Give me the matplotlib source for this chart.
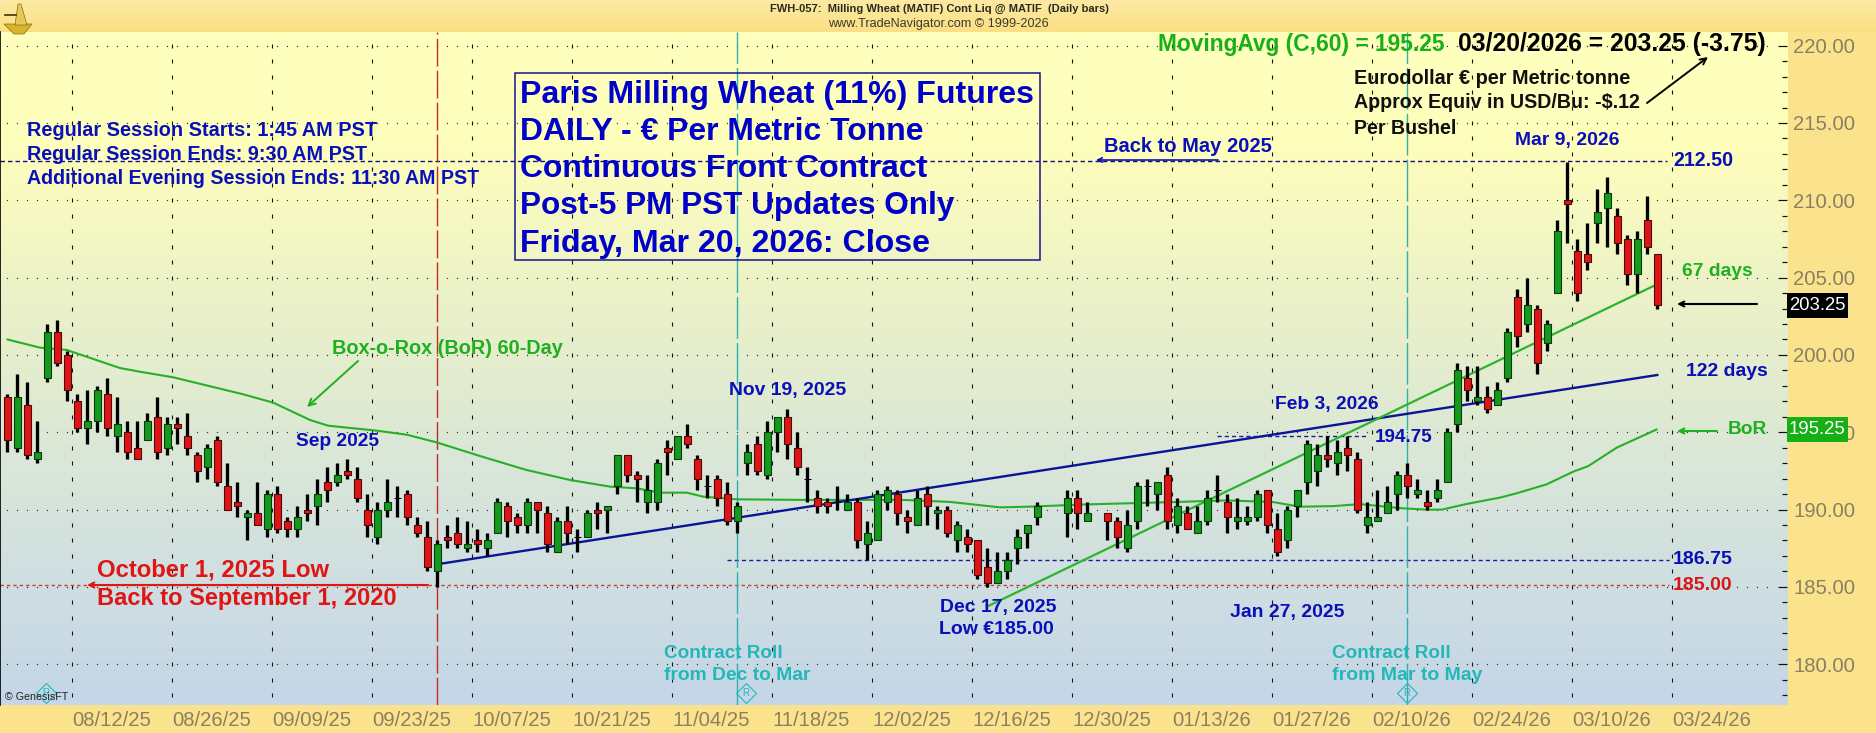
import numpy as np
import matplotlib
matplotlib.use("Agg")
import matplotlib.pyplot as plt
from matplotlib.colors import LinearSegmentedColormap
from matplotlib.patches import Rectangle, Polygon
from matplotlib.lines import Line2D

nan = float("nan")

# ---------- data ----------
opens = [197.25,194.0,196.75,193.25,198.5,201.5,200.0,197.0,195.25,195.75,
 197.5,194.75,195.0,194.0,194.5,196.0,194.0,195.5,194.75,193.5,
 192.75,194.5,191.5,190.5,189.5,189.75,188.75,191.0,189.25,188.75,
 190.0,190.25,191.75,191.75,192.5,192.0,190.0,188.25,190.0,190.75,
 191.0,189.0,188.25,186.0,188.25,188.5,187.5,188.0,187.5,188.5,
 190.25,189.5,189.0,190.5,189.75,187.25,189.25,188.25,188.25,190.0,
 190.0,191.5,193.5,192.25,190.5,190.5,194.0,193.25,194.75,193.25,
 191.5,192.0,191.0,189.25,193.0,194.25,192.25,195.0,196.0,194.0,
 192.0,190.75,190.5,190.5,190.0,190.5,187.75,188.0,190.5,191.0,
 189.5,189.0,191.0,189.75,190.0,188.0,188.25,188.0,186.25,185.25,
 186.0,187.5,188.5,189.5,nan,nan,189.75,190.75,189.25,nan,
 189.75,189.25,187.5,189.25,191.5,191.0,192.25,189.0,189.75,188.5,
 189.25,191.25,190.5,189.25,189.25,189.5,191.25,188.75,188.0,190.25,
 191.75,192.5,193.5,193.0,194.0,193.25,189.0,189.25,189.75,191.0,
 192.25,191.0,190.5,190.75,191.75,195.5,198.5,197.0,197.25,196.75,
 198.5,203.75,202.0,203.0,200.75,204.0,210.0,206.75,206.5,208.5,
 209.5,209.0,207.5,205.25,208.75,206.5]
highs = [197.5,198.75,198.25,195.75,202.0,202.25,200.25,197.5,197.75,198.0,
 198.5,197.25,195.75,195.75,196.25,197.25,196.0,196.0,196.25,193.75,
 194.25,194.75,193.0,191.75,190.0,191.75,191.25,191.5,189.5,190.25,
 191.0,192.0,192.75,193.0,193.25,192.75,191.0,190.5,192.0,191.5,
 191.25,189.5,189.25,188.0,189.0,189.5,189.25,188.75,188.5,190.75,
 190.5,189.75,190.75,190.5,190.25,189.5,190.25,188.75,190.0,190.5,
 190.25,193.5,193.5,192.5,192.25,193.25,194.5,194.75,195.5,193.5,
 192.25,192.25,191.75,190.5,194.25,194.75,195.75,196.0,196.5,195.0,
 192.75,191.25,190.75,191.5,191.0,190.75,189.25,191.25,191.5,191.25,
 190.0,191.25,191.5,190.25,190.25,189.25,188.75,188.0,187.5,187.25,
 187.25,188.75,189.0,190.5,nan,nan,191.25,191.25,190.5,nan,
 189.75,189.5,190.0,191.75,192.0,191.75,192.75,190.75,190.25,190.25,
 191.25,192.25,191.0,190.75,190.25,191.25,191.25,189.75,190.25,191.25,
 194.5,194.25,194.75,194.5,194.75,193.75,190.5,191.25,191.5,192.5,
 193.0,192.0,191.25,192.0,195.25,199.5,199.25,199.25,198.0,198.25,
 201.75,204.25,205.0,203.25,202.25,208.75,212.5,207.5,208.5,210.75,
 211.5,209.5,207.75,208.0,210.25,206.5]
lows = [193.75,193.75,193.25,193.0,198.25,199.25,197.0,195.0,194.25,195.0,
 194.75,193.75,193.25,193.25,194.5,193.25,193.5,194.25,193.5,191.75,
 192.0,191.5,190.0,189.5,188.0,189.0,188.25,188.5,188.25,188.25,
 189.25,189.0,190.5,191.5,192.0,190.5,188.25,187.75,189.5,189.5,
 189.0,188.25,186.0,185.0,187.5,187.5,187.25,187.25,187.0,188.5,
 188.25,188.5,188.5,188.5,187.25,187.25,187.75,187.25,188.25,188.75,
 188.5,191.0,191.75,190.5,189.75,190.0,192.25,193.25,194.0,191.25,
 190.75,190.25,189.0,188.5,192.25,192.25,192.0,193.75,193.25,192.25,
 190.5,189.75,189.75,190.0,190.0,187.5,186.75,188.0,190.0,189.0,
 188.5,189.0,189.0,188.75,188.25,187.25,187.25,185.5,185.0,185.25,
 185.5,186.5,187.5,189.0,nan,nan,188.25,188.75,189.25,nan,
 188.0,187.5,187.25,188.75,190.25,190.0,188.75,188.5,188.75,188.5,
 189.0,190.5,188.5,188.75,189.0,189.25,188.5,187.0,187.5,189.5,
 191.0,191.5,192.75,192.25,192.5,189.75,188.5,189.25,189.75,190.0,
 190.75,190.75,190.0,190.5,191.75,195.0,197.0,196.75,196.25,196.75,
 198.25,200.5,201.5,198.75,200.25,204.0,207.25,203.5,205.5,207.25,
 207.0,206.5,204.5,204.0,206.5,203.0]
closes = [194.5,197.25,193.5,193.75,201.5,199.5,197.75,195.25,195.75,197.75,
 195.25,195.5,193.75,193.25,195.75,193.75,195.5,195.25,194.0,192.5,
 194.0,191.75,190.0,190.25,189.75,189.0,191.0,188.75,188.75,189.5,
 189.75,191.0,191.25,192.25,192.25,190.75,189.0,190.0,190.5,190.75,
 189.5,188.5,186.25,187.75,188.0,187.75,187.75,187.75,188.0,190.5,
 189.25,189.0,190.5,190.0,187.75,189.25,188.5,188.25,189.75,189.75,
 190.25,193.5,192.25,192.0,191.25,193.0,193.75,194.75,194.25,192.0,
 191.5,190.75,189.25,190.25,193.75,192.5,195.0,196.0,194.25,192.75,
 192.0,190.25,190.25,190.5,190.5,188.0,188.5,191.0,191.25,189.75,
 189.25,190.75,190.25,190.0,188.5,189.0,187.75,185.75,185.25,186.0,
 186.75,188.25,189.0,190.25,nan,nan,190.75,189.75,189.75,nan,
 189.25,188.25,189.0,191.5,191.5,191.75,189.25,190.25,188.75,189.25,
 190.75,191.25,189.5,189.5,189.5,191.0,189.0,187.25,190.0,191.25,
 194.25,193.5,193.25,193.75,193.5,190.0,189.5,189.5,190.5,192.25,
 191.5,191.25,190.25,191.25,195.0,199.0,197.75,197.25,196.5,197.75,
 201.5,201.25,203.25,199.5,202.0,208.0,209.75,204.0,206.0,209.25,
 210.5,207.25,205.25,207.5,207.0,203.25]

# 60-day moving average, read at its visible bends (bar number, price)
ma_bar = [0,3.27,5.94,11.27,13.27,16.6,23.6,26.6,30.27,32.1,36.94,39.94,42.94,47.27,51.9,56.27,
          60.27,62.94,65.27,67.94,69.6,72.94,79.6,89.6,94.27,99.27,101.94,107.94,116.6,121.94,
          126.6,129.27,132.6,135.27,139.27,141.94,143.44,145.94,149.27,150.94,153.94,156.6,
          158.1,160.94,164.94]
ma_val = [201.0,200.47,200.32,199.15,198.91,198.55,197.45,196.91,195.79,195.42,195.1,194.84,194.34,
          193.46,192.56,191.91,191.48,191.37,191.09,191.09,190.83,190.66,190.62,190.62,190.49,
          190.14,190.18,190.33,190.48,190.59,190.48,190.18,190.22,190.35,190.09,189.99,189.99,
          190.36,190.77,191.05,191.63,192.45,192.81,194.0,195.18]
trend_122_bar = [43.4, 165.0]
trend_122_val = [186.5, 198.7]
trend_67_bar = [98.1, 164.7]
trend_67_val = [183.76, 204.48]

date_labels = ["08/12/25","08/26/25","09/09/25","09/23/25","10/07/25","10/21/25","11/04/25","11/18/25",
               "12/02/25","12/16/25","12/30/25","01/13/26","01/27/26","02/10/26","02/24/26","03/10/26","03/24/26"]
price_ticks = [220,215,210,205,200,195,190,185,180]

# ---------- layout ----------
W, H = 1876, 733
X0, X1, Y0, Y1 = 0, 1787, 32, 705
PT = 0.72  # points per pixel at dpi 100
FONT = "Liberation Sans"
BLUE = "#0A10B8"
BIGBLUE = "#0000C8"
GREEN = "#1FB01F"
RED = "#E01515"
TEAL = "#22B8B8"
MARGIN = "#FBE38E"

plt.rcParams["font.family"] = [FONT, "DejaVu Sans"]
fig = plt.figure(figsize=(W / 100, H / 100), dpi=100, facecolor=MARGIN)

# header gradient
bg = fig.add_axes([0, 1 - Y0 / H, 1, Y0 / H], zorder=0)
bg.axis("off")
bg.imshow(np.linspace(0, 1, 32).reshape(-1, 1), aspect="auto",
          cmap=LinearSegmentedColormap.from_list("hdr", ["#FCEAA4", "#FBDF84"]))

ax = fig.add_axes([X0 / W, 1 - Y1 / H, (X1 - X0) / W, (Y1 - Y0) / H], zorder=1)
xmin, xmax = -0.73, 177.97
ymin, ymax = 177.355, 220.886
ax.set_xlim(xmin, xmax)
ax.set_ylim(ymin, ymax)

grad = LinearSegmentedColormap.from_list(
    "bg", [(0, "#FFFFBE"), (0.18, "#FDFDBC"), (0.45, "#E7EFCB"), (0.72, "#D5E3DD"), (1, "#C4D6E8")])
ax.imshow(np.linspace(0, 1, 512).reshape(-1, 1), aspect="auto", cmap=grad,
          extent=[xmin, xmax, ymin, ymax], zorder=0)

# spines
for s in ax.spines.values():
    s.set_visible(False)
ax.spines["left"].set_visible(True)
ax.spines["left"].set_linewidth(1.2)

# grid made of dots and tick-marks
xt = np.arange(6.5, 167, 10)
gy = np.arange(178, 221, 1)
gx, gyy = np.meshgrid(xt, gy)
ax.plot(gx.ravel(), gyy.ravel(), ls="none", marker="|", ms=4.2 * PT, mew=1.1 * PT, color="#111111", zorder=1)
hx = np.arange(0, 177, 1) - 0.0
hy = np.array(price_ticks)
hxx, hyy = np.meshgrid(hx, hy)
ax.plot(hxx.ravel(), hyy.ravel(), ls="none", marker="s", ms=1.2 * PT, mew=0, color="#333333", zorder=1)

# axis ticks
ax.yaxis.tick_right()
ax.set_yticks(price_ticks)
ax.set_yticks(np.arange(178, 221, 1), minor=True)
ax.set_yticklabels([f"{v:.2f}" for v in price_ticks], fontsize=14.6, color="#8A8060")
ax.tick_params(axis="y", which="major", direction="in", length=9 * PT, width=1.2 * PT, pad=4.5, color="#111111")
ax.tick_params(axis="y", which="minor", direction="in", length=5 * PT, width=1.2 * PT, color="#111111")
ax.set_xticks(xt)
ax.set_xticklabels(date_labels, fontsize=14.6, color="#8A8060", ha="left")
ax.tick_params(axis="x", length=0, pad=4.0)

# horizontal reference lines (the source draws 185 and 212.50 a pixel above the price grid)
ax.plot([xmin, 166.0], [212.56, 212.56], lw=1.0, color="#10107A", dashes=(3.2, 2.2), zorder=2)
ax.plot([xmin, 166.2], [185.1, 185.1], lw=1.0, color="#D03A3A", dashes=(2.4, 2.2), zorder=2)
ax.plot([72.0, 166.2], [186.75, 186.75], lw=1.0, color="#1A1AA0", dashes=(3.0, 2.2), zorder=2)
ax.plot([121.0, 136.0], [194.75, 194.75], lw=1.0, color="#1A1AA0", dashes=(3.0, 2.2), zorder=2)

# event lines
ax.plot([43, 43], [ymin, ymax], lw=1.0, color="#C42A2A", dashes=(20, 3), zorder=2)
for b in (73, 140):
    ax.plot([b, b], [ymin, ymax], lw=1.0, color="#2FB0B0", dashes=(30, 3), zorder=2)

# trend lines and moving average
ax.plot(ma_bar, ma_val, color="#27B027", lw=1.5, zorder=3, solid_capstyle="round")
ax.plot(trend_122_bar, trend_122_val, color="#0A1496", lw=1.7, zorder=3)
ax.plot(trend_67_bar, trend_67_val, color="#2CB52C", lw=1.6, zorder=3)

# candlesticks
idx = np.arange(len(closes))
o, h, l, c = map(np.array, (opens, highs, lows, closes))
ok = ~np.isnan(c)
ax.vlines(idx[ok], l[ok], h[ok], color="black", lw=3.3 * PT, zorder=4)
up = ok & (c > o)
dn = ok & (c < o)
doji = ok & (c == o)
ax.bar(idx[up], (c - o)[up], bottom=o[up], width=0.66, color="#149A1E", edgecolor="#0A3A0A", lw=1.1 * PT, zorder=5)
ax.bar(idx[dn], (o - c)[dn], bottom=c[dn], width=0.66, color="#E01414", edgecolor="#4A0A0A", lw=1.1 * PT, zorder=5)
ax.hlines(c[doji], idx[doji] - 0.36, idx[doji] + 0.36, color="black", lw=1.0 * PT, zorder=5)

_r = fig.canvas.get_renderer()


def T(x, y, s, color, size=None, width=None, weight="bold", ha="left", z=20):
    t = fig.text(x / W, 1 - y / H, s, color=color, fontsize=size or 10, fontweight=weight,
                 ha=ha, va="center", family=FONT, zorder=z)
    if width is not None:
        t.set_fontsize(10 * width / t.get_window_extent(_r).width)
    return t


def ARROW(x0, y0, x1, y1, color, lw=1.4, ms=9):
    fig.add_artist(matplotlib.patches.FancyArrowPatch(
        (x0 / W, 1 - y0 / H), (x1 / W, 1 - y1 / H), transform=fig.transFigure,
        arrowstyle="->", mutation_scale=ms, lw=lw, color=color, shrinkA=0, shrinkB=0, zorder=19))


# header
T(770, 9, "FWH-057:  Milling Wheat (MATIF) Cont Liq @ MATIF  (Daily bars)", "#2A2A1E", width=337)
T(828, 24, "www.TradeNavigator.com © 1999-2026", "#3A3A2A", width=221, weight="normal")

# session text
T(27, 130.5, "Regular Session Starts: 1:45 AM PST", BLUE, width=350)
T(27, 155, "Regular Session Ends: 9:30 AM PST", BLUE, width=341)
T(27, 179, "Additional Evening Session Ends: 11:30 AM PST", BLUE, width=454)

# title box
fig.add_artist(Rectangle((515 / W, 1 - 260 / H), 525 / W, 186.5 / H, transform=fig.transFigure,
                         fill=False, ec="#14148C", lw=1.1, zorder=18))
T(520, 95, "Paris Milling Wheat (11%) Futures", BIGBLUE, width=515)
T(520, 132, "DAILY - € Per Metric Tonne", BIGBLUE, width=403)
T(520, 169, "Continuous Front Contract", BIGBLUE, width=407)
T(520, 206, "Post-5 PM PST Updates Only", BIGBLUE, width=434)
T(520, 244, "Friday, Mar 20, 2026: Close", BIGBLUE, width=411)

# top-right
T(1158.5, 44, "MovingAvg (C,60) = 195.25", "#18B018", width=288)
T(1458, 44, "03/20/2026 = 203.25 (-3.75)", "black", width=308)
T(1354, 79, "Eurodollar € per Metric tonne", "#101010", width=276)
T(1354, 103, "Approx Equiv in USD/Bu: -$.12", "#101010", width=287)
T(1354, 128, "Per Bushel", "#101010", width=103)
ARROW(1647, 103, 1708, 57, "black", lw=1.4, ms=11)

# annotations
T(1104, 147, "Back to May 2025", BLUE, width=167)
ARROW(1218, 160, 1096, 160, BLUE, lw=1.2, ms=8)
T(1515, 141, "Mar 9, 2026", BLUE, width=104)
T(1673, 160.5, "212.50", BLUE, width=60)
T(1682, 272, "67 days", GREEN, width=71)
T(1686, 372, "122 days", BLUE, width=82)
T(1728, 430, "BoR", GREEN, width=39)
ARROW(1717, 431, 1677, 431, GREEN, lw=1.5, ms=9)
ARROW(1757, 304, 1677, 304, "black", lw=1.5, ms=9)
T(296, 442, "Sep 2025", BLUE, width=83)
T(729, 390.5, "Nov 19, 2025", BLUE, width=117)
T(940, 607.5, "Dec 17, 2025", BLUE, width=116)
T(939, 630, "Low €185.00", BLUE, width=115)
T(1275, 404, "Feb 3, 2026", BLUE, width=104)
T(1375, 438, "194.75", BLUE, width=58)
T(1230, 613, "Jan 27, 2025", BLUE, width=114)
T(1673, 560, "186.75", BLUE, width=60)
T(1673, 586, "185.00", "#D81818", width=60)
T(97, 570, "October 1, 2025 Low", RED, width=232)
T(97, 599, "Back to September 1, 2020", RED, width=300)
ARROW(428, 585, 87, 585, RED, lw=1.5, ms=9)
T(332, 348, "Box-o-Rox (BoR) 60-Day", GREEN, width=230)
ARROW(358, 361, 307, 407, GREEN, lw=1.4, ms=12)

# contract-roll notes
T(664, 654, "Contract Roll", TEAL, width=118)
T(664, 676, "from Dec to Mar", TEAL, width=146)
T(1332, 654, "Contract Roll", TEAL, width=118)
T(1332, 676, "from Mar to May", TEAL, width=150)
for dx, dy in ((46, 693), (746, 693), (1407, 693)):
    fig.add_artist(Line2D([dx / W], [1 - dy / H], marker="D", ms=10, mfc="none", mec=TEAL, mew=0.8,
                          transform=fig.transFigure, zorder=18))
    T(dx, dy, "R", TEAL, size=7, weight="normal", ha="center")
T(5, 697, "© GenesisFT", "#222222", width=63, weight="normal")

# last-value flags
for y0, y1, col, txt in ((293, 318, "#000000", "203.25"), (417, 442, "#16B016", "195.25")):
    fig.add_artist(Rectangle((1787 / W, 1 - y1 / H), 61 / W, (y1 - y0) / H, transform=fig.transFigure,
                             fc=col, ec="none", zorder=21))
    T(1789, (y0 + y1) / 2, txt, "white", width=57, weight="normal", z=22)

# sextant emblem in the corner
fig.add_artist(Polygon([(4 / W, 1 - 24 / H), (32 / W, 1 - 24 / H), (24 / W, 1 - 34 / H), (14 / W, 1 - 34 / H)],
                       transform=fig.transFigure, fc="#D8B42A", ec="#8A6A10", lw=0.5, zorder=25))
fig.add_artist(Polygon([(18 / W, 1 - 4 / H), (21 / W, 1 - 4 / H), (27 / W, 1 - 25 / H), (15 / W, 1 - 25 / H)],
                       transform=fig.transFigure, fc="#E4C858", ec="#8A6A10", lw=0.5, zorder=25))
fig.add_artist(Line2D([5 / W, 16 / W], [1 - 15 / H, 1 - 15 / H], transform=fig.transFigure, color="#3A3010", lw=1.2, zorder=26))

fig.savefig("out.png", dpi=100, facecolor=fig.get_facecolor())
